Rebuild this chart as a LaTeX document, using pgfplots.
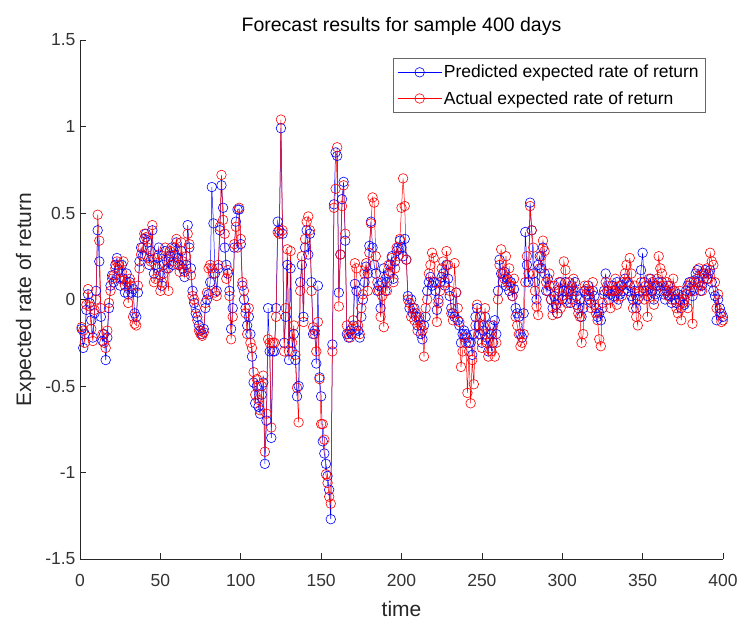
\documentclass[border=0pt]{standalone}
\usepackage{pgfplots}
\usepackage{pgfplotstable}
\usepackage{fontspec}
\setmainfont{Liberation Sans}
\pgfplotsset{compat=1.18}
\definecolor{mblue}{RGB}{0,0,255}
\definecolor{mred}{RGB}{255,0,0}
\pgfplotstableread[row sep=\\]{
x p a\\
1 -0.17 -0.16\\ 2 -0.28 -0.18\\ 3 -0.20 -0.25\\ 4 -0.06 -0.03\\ 5 0.03 0.06\\ 6 -0.02 -0.04\\ 7 -0.12 -0.17\\ 8 -0.22 -0.24\\ 9 -0.08 -0.06\\ 10 0.05 0.00\\
11 0.40 0.49\\ 12 0.22 0.34\\ 13 -0.10 -0.05\\ 14 -0.24 -0.20\\ 15 -0.20 -0.25\\ 16 -0.35 -0.28\\ 17 -0.22 -0.18\\ 18 -0.05 -0.02\\ 19 0.08 0.05\\ 20 0.14 0.12\\
21 0.10 0.14\\ 22 0.20 0.18\\ 23 0.24 0.22\\ 24 0.17 0.20\\ 25 0.08 0.12\\ 26 0.20 0.16\\ 27 0.12 0.22\\ 28 0.04 0.08\\ 29 0.15 0.10\\ 30 0.03 -0.02\\
31 0.10 0.12\\ 32 0.04 0.08\\ 33 0.06 -0.10\\ 34 -0.08 -0.14\\ 35 -0.10 -0.15\\ 36 0.04 0.08\\ 37 0.22 0.18\\ 38 0.30 0.26\\ 39 0.25 0.30\\ 40 0.35 0.38\\
41 0.38 0.36\\ 42 0.33 0.30\\ 43 0.20 0.24\\ 44 0.28 0.22\\ 45 0.40 0.43\\ 46 0.15 0.10\\ 47 0.20 0.12\\ 48 0.24 0.18\\ 49 0.30 0.26\\ 50 0.14 0.05\\
51 0.08 0.10\\ 52 0.20 0.15\\ 53 0.28 0.30\\ 54 0.22 0.18\\ 55 0.18 0.05\\ 56 0.25 0.28\\ 57 0.30 0.25\\ 58 0.20 0.22\\ 59 0.26 0.30\\ 60 0.33 0.35\\
61 0.24 0.20\\ 62 0.20 0.16\\ 63 0.28 0.33\\ 64 0.18 0.22\\ 65 0.13 0.16\\ 66 0.20 0.25\\ 67 0.43 0.38\\ 68 0.30 0.32\\ 69 0.18 0.14\\ 70 0.05 0.02\\
71 -0.02 0.00\\ 72 -0.08 -0.05\\ 73 -0.10 -0.12\\ 74 -0.15 -0.18\\ 75 -0.18 -0.20\\ 76 -0.20 -0.21\\ 77 -0.17 -0.19\\ 78 -0.05 -0.02\\ 79 0.00 0.04\\ 80 0.03 0.18\\
81 0.10 0.20\\ 82 0.65 0.18\\ 83 0.44 0.15\\ 84 0.15 0.04\\ 85 0.05 0.02\\ 86 0.18 0.20\\ 87 0.40 0.42\\ 88 0.66 0.72\\ 89 0.53 0.46\\ 90 0.30 0.38\\
91 0.20 0.12\\ 92 0.15 0.17\\ 93 0.05 0.02\\ 94 -0.17 -0.23\\ 95 -0.05 -0.10\\ 96 0.30 0.32\\ 97 0.45 0.42\\ 98 0.52 0.30\\ 99 0.52 0.53\\ 100 0.32 0.35\\
101 0.08 0.10\\ 102 0.00 0.05\\ 103 -0.05 -0.08\\ 104 -0.15 -0.20\\ 105 -0.10 -0.05\\ 106 -0.20 -0.25\\ 107 -0.33 -0.28\\ 108 -0.48 -0.42\\ 109 -0.60 -0.55\\ 110 -0.50 -0.46\\
111 -0.62 -0.58\\ 112 -0.66 -0.64\\ 113 -0.55 -0.50\\ 114 -0.48 -0.44\\ 115 -0.95 -0.88\\ 116 -0.70 -0.66\\ 117 -0.05 -0.23\\ 118 -0.30 -0.25\\ 119 -0.80 -0.74\\ 120 -0.30 -0.25\\
121 -0.30 -0.25\\ 122 -0.05 -0.10\\ 123 0.45 0.39\\ 124 0.40 0.38\\ 125 0.99 1.04\\ 126 0.38 0.40\\ 127 -0.25 -0.30\\ 128 -0.10 -0.05\\ 129 0.20 0.29\\ 130 -0.35 -0.30\\
131 0.18 0.28\\ 132 -0.30 -0.25\\ 133 -0.20 -0.15\\ 134 -0.35 -0.32\\ 135 -0.56 -0.51\\ 136 -0.50 -0.71\\ 137 0.10 0.05\\ 138 0.20 0.25\\ 139 -0.10 -0.13\\ 140 0.30 0.35\\
141 0.40 0.45\\ 142 0.26 0.48\\ 143 0.38 0.40\\ 144 0.10 0.05\\ 145 -0.20 -0.16\\ 146 -0.18 -0.20\\ 147 -0.37 -0.30\\ 148 0.08 -0.13\\ 149 -0.45 -0.46\\ 150 -0.56 -0.72\\
151 -0.82 -0.72\\ 152 -0.89 -0.81\\ 153 -0.95 -1.01\\ 154 -1.02 -1.06\\ 155 -1.10 -1.14\\ 156 -1.27 -1.18\\ 157 -0.26 -0.30\\ 158 0.55 0.53\\ 159 0.85 0.64\\ 160 0.83 0.88\\
161 0.04 -0.04\\ 162 0.26 0.26\\ 163 0.58 0.54\\ 164 0.68 0.66\\ 165 0.34 0.38\\ 166 -0.20 -0.15\\ 167 -0.22 -0.20\\ 168 -0.18 -0.22\\ 169 -0.20 -0.17\\ 170 -0.15 -0.12\\
171 0.09 0.21\\ 172 0.05 0.18\\ 173 -0.18 -0.15\\ 174 -0.22 -0.20\\ 175 -0.10 -0.05\\ 176 0.00 0.03\\ 177 0.10 0.15\\ 178 0.19 0.21\\ 179 0.15 0.05\\ 180 0.31 0.27\\
181 0.45 0.44\\ 182 0.30 0.59\\ 183 0.20 0.56\\ 184 0.15 0.25\\ 185 0.05 0.10\\ 186 0.08 0.05\\ 187 -0.05 -0.10\\ 188 0.10 0.02\\ 189 0.18 -0.16\\ 190 0.05 0.12\\
191 0.10 0.05\\ 192 0.15 0.20\\ 193 0.20 0.16\\ 194 0.25 0.24\\ 195 0.12 0.10\\ 196 0.22 0.18\\ 197 0.28 0.30\\ 198 0.30 0.25\\ 199 0.34 0.35\\ 200 0.30 0.53\\
201 0.25 0.70\\ 202 0.35 0.54\\ 203 0.23 0.23\\ 204 0.02 0.00\\ 205 -0.05 -0.02\\ 206 0.00 -0.10\\ 207 -0.08 -0.05\\ 208 -0.05 -0.12\\ 209 -0.10 -0.08\\ 210 -0.15 -0.18\\
211 -0.10 -0.12\\ 212 -0.20 -0.15\\ 213 -0.23 -0.18\\ 214 -0.15 -0.33\\ 215 -0.10 -0.05\\ 216 0.05 0.00\\ 217 0.10 0.15\\ 218 0.13 0.20\\ 219 0.08 0.27\\ 220 0.10 0.24\\
221 0.05 0.10\\ 222 -0.06 -0.13\\ 223 0.00 -0.02\\ 224 0.10 0.05\\ 225 0.13 0.18\\ 226 0.15 0.22\\ 227 0.08 0.10\\ 228 0.20 0.28\\ 229 0.12 0.20\\ 230 0.02 0.05\\
231 -0.05 -0.08\\ 232 -0.08 -0.12\\ 233 -0.10 0.21\\ 234 0.04 0.04\\ 235 -0.12 -0.05\\ 236 -0.15 -0.13\\ 237 -0.25 -0.39\\ 238 -0.20 -0.30\\ 239 -0.18 -0.22\\ 240 -0.20 -0.25\\
241 -0.22 -0.54\\ 242 -0.25 -0.30\\ 243 -0.25 -0.60\\ 244 -0.32 -0.35\\ 245 -0.20 -0.49\\ 246 -0.10 -0.15\\ 247 -0.05 -0.03\\ 248 -0.15 -0.20\\ 249 -0.20 -0.10\\ 250 -0.25 -0.28\\
251 -0.18 -0.15\\ 252 -0.10 -0.05\\ 253 -0.22 -0.25\\ 254 -0.30 -0.33\\ 255 -0.15 -0.20\\ 256 -0.20 -0.30\\ 257 -0.25 -0.15\\ 258 -0.12 -0.33\\ 259 -0.20 -0.25\\ 260 0.05 0.00\\
261 0.23 0.20\\ 262 0.15 0.29\\ 263 0.10 0.15\\ 264 0.16 0.12\\ 265 0.08 0.25\\ 266 0.12 0.10\\ 267 0.05 0.18\\ 268 0.10 0.08\\ 269 0.02 0.02\\ 270 0.06 0.12\\
271 -0.05 -0.10\\ 272 -0.08 -0.15\\ 273 -0.10 -0.20\\ 274 -0.20 -0.27\\ 275 -0.22 -0.25\\ 276 -0.08 -0.20\\ 277 0.39 0.10\\ 278 0.20 0.25\\ 279 0.10 0.15\\ 280 0.56 0.54\\
281 0.40 0.40\\ 282 0.15 0.30\\ 283 0.10 0.05\\ 284 0.00 -0.04\\ 285 0.20 -0.09\\ 286 0.25 0.18\\ 287 0.18 0.25\\ 288 0.30 0.34\\ 289 0.15 0.28\\ 290 0.05 0.10\\
291 0.12 0.05\\ 292 0.08 0.15\\ 293 0.00 0.00\\ 294 -0.05 -0.09\\ 295 0.02 0.08\\ 296 -0.03 0.00\\ 297 -0.08 -0.08\\ 298 0.05 0.10\\ 299 0.10 -0.05\\ 300 0.00 0.02\\
301 0.05 0.22\\ 302 0.10 0.17\\ 303 0.00 -0.02\\ 304 0.05 0.10\\ 305 -0.02 0.05\\ 306 0.08 0.00\\ 307 0.05 0.12\\ 308 0.10 0.05\\ 309 0.02 -0.03\\ 310 -0.05 -0.08\\
311 0.00 -0.10\\ 312 -0.10 -0.25\\ 313 -0.05 -0.20\\ 314 0.05 0.08\\ 315 0.03 0.06\\ 316 0.08 0.02\\ 317 0.00 0.05\\ 318 -0.02 -0.05\\ 319 0.05 0.10\\ 320 0.02 -0.03\\
321 -0.05 -0.08\\ 322 -0.10 -0.12\\ 323 -0.08 -0.23\\ 324 -0.12 -0.27\\ 325 -0.05 -0.02\\ 326 0.05 0.03\\ 327 0.15 0.10\\ 328 0.05 0.08\\ 329 0.00 0.05\\ 330 0.03 -0.05\\
331 0.08 0.05\\ 332 0.02 0.05\\ 333 0.05 0.12\\ 334 0.10 -0.03\\ 335 0.00 0.05\\ 336 0.03 0.08\\ 337 0.08 0.02\\ 338 0.05 0.10\\ 339 0.12 0.15\\ 340 0.10 0.20\\
341 0.05 0.10\\ 342 0.08 0.24\\ 343 0.02 0.15\\ 344 0.00 -0.05\\ 345 0.05 0.08\\ 346 -0.05 -0.10\\ 347 0.00 -0.15\\ 348 0.05 0.02\\ 349 0.17 0.10\\ 350 0.27 0.05\\
351 0.10 0.00\\ 352 0.05 0.08\\ 353 0.02 -0.10\\ 354 0.08 0.12\\ 355 0.12 0.05\\ 356 0.05 0.10\\ 357 0.00 -0.03\\ 358 0.03 0.08\\ 359 0.08 0.12\\ 360 0.10 0.25\\
361 0.05 0.18\\ 362 0.10 0.15\\ 363 0.03 0.08\\ 364 0.00 0.05\\ 365 0.05 0.10\\ 366 0.08 0.02\\ 367 0.02 0.08\\ 368 -0.02 0.00\\ 369 0.05 0.12\\ 370 0.00 0.05\\
371 -0.02 -0.05\\ 372 0.03 -0.08\\ 373 0.00 0.05\\ 374 -0.05 -0.12\\ 375 0.02 -0.02\\ 376 -0.03 0.00\\ 377 0.05 0.03\\ 378 0.08 -0.05\\ 379 0.10 0.08\\ 380 0.05 0.10\\
381 0.02 -0.14\\ 382 0.11 0.05\\ 383 0.15 0.10\\ 384 0.17 0.12\\ 385 0.10 0.18\\ 386 0.05 0.08\\ 387 0.08 0.05\\ 388 0.15 0.12\\ 389 0.17 0.15\\ 390 0.12 0.18\\
391 0.15 0.12\\ 392 0.17 0.27\\ 393 0.10 0.22\\ 394 0.05 0.20\\ 395 0.02 0.10\\ 396 -0.12 -0.05\\ 397 0.00 0.03\\ 398 -0.05 -0.08\\ 399 -0.08 -0.13\\ 400 -0.10 -0.12\\
}\data
\begin{document}
\begin{tikzpicture}
\useasboundingbox (0,0) rectangle (740bp,620bp);
\begin{axis}[
  at={(80bp,61bp)}, anchor=south west,
  width=643bp, height=519bp, scale only axis,
  xmin=0, xmax=400, ymin=-1.5, ymax=1.5,
  xtick={0,50,...,400}, ytick={-1.5,-1,-0.5,0,0.5,1,1.5},
  axis x line*=bottom, axis y line*=left,
  tick align=inside,
  axis line style={line width=0.7pt, black!85},
  major tick length=6bp,
  every tick/.style={line width=0.7pt, black!85},
  /pgf/number format/assume math mode=true,
  tick label style={font=\fontsize{17.5bp}{20bp}\selectfont, text=black!80},
  xticklabel style={yshift=-12bp},
  yticklabel style={/pgf/number format/fixed, xshift=-1bp},
  xlabel={time}, ylabel={Expected rate of return},
  label style={font=\fontsize{21bp}{24bp}\selectfont, text=black!85},
  xlabel style={yshift=-8bp},
  ylabel style={yshift=3bp},
  title={Forecast results for sample 400 days},
  title style={font=\fontsize{19.5bp}{22bp}\selectfont, yshift=-5bp},
  legend style={at={(1,1)}, anchor=north east, xshift=-18bp, yshift=-18bp,
    font=\fontsize{17.5bp}{20bp}\selectfont, draw=black!60, line width=0.5pt,
    row sep=8bp, inner xsep=4bp, inner ysep=5bp},
  legend cell align=left,
  legend image code/.code={\draw[mark repeat=2,mark phase=2] plot coordinates {(0bp,0bp)(22bp,0bp)(44bp,0bp)};},
  clip=false,
]
\addplot[mblue, line width=0.5pt, mark=o, mark size=4.8bp, mark options={line width=0.6pt}] table[x=x, y=p] {\data};
\addplot[mred, line width=0.5pt, mark=o, mark size=4.8bp, mark options={line width=0.6pt}] table[x=x, y=a] {\data};
\legend{Predicted expected rate of return, Actual expected rate of return}
\end{axis}
\end{tikzpicture}
\end{document}
